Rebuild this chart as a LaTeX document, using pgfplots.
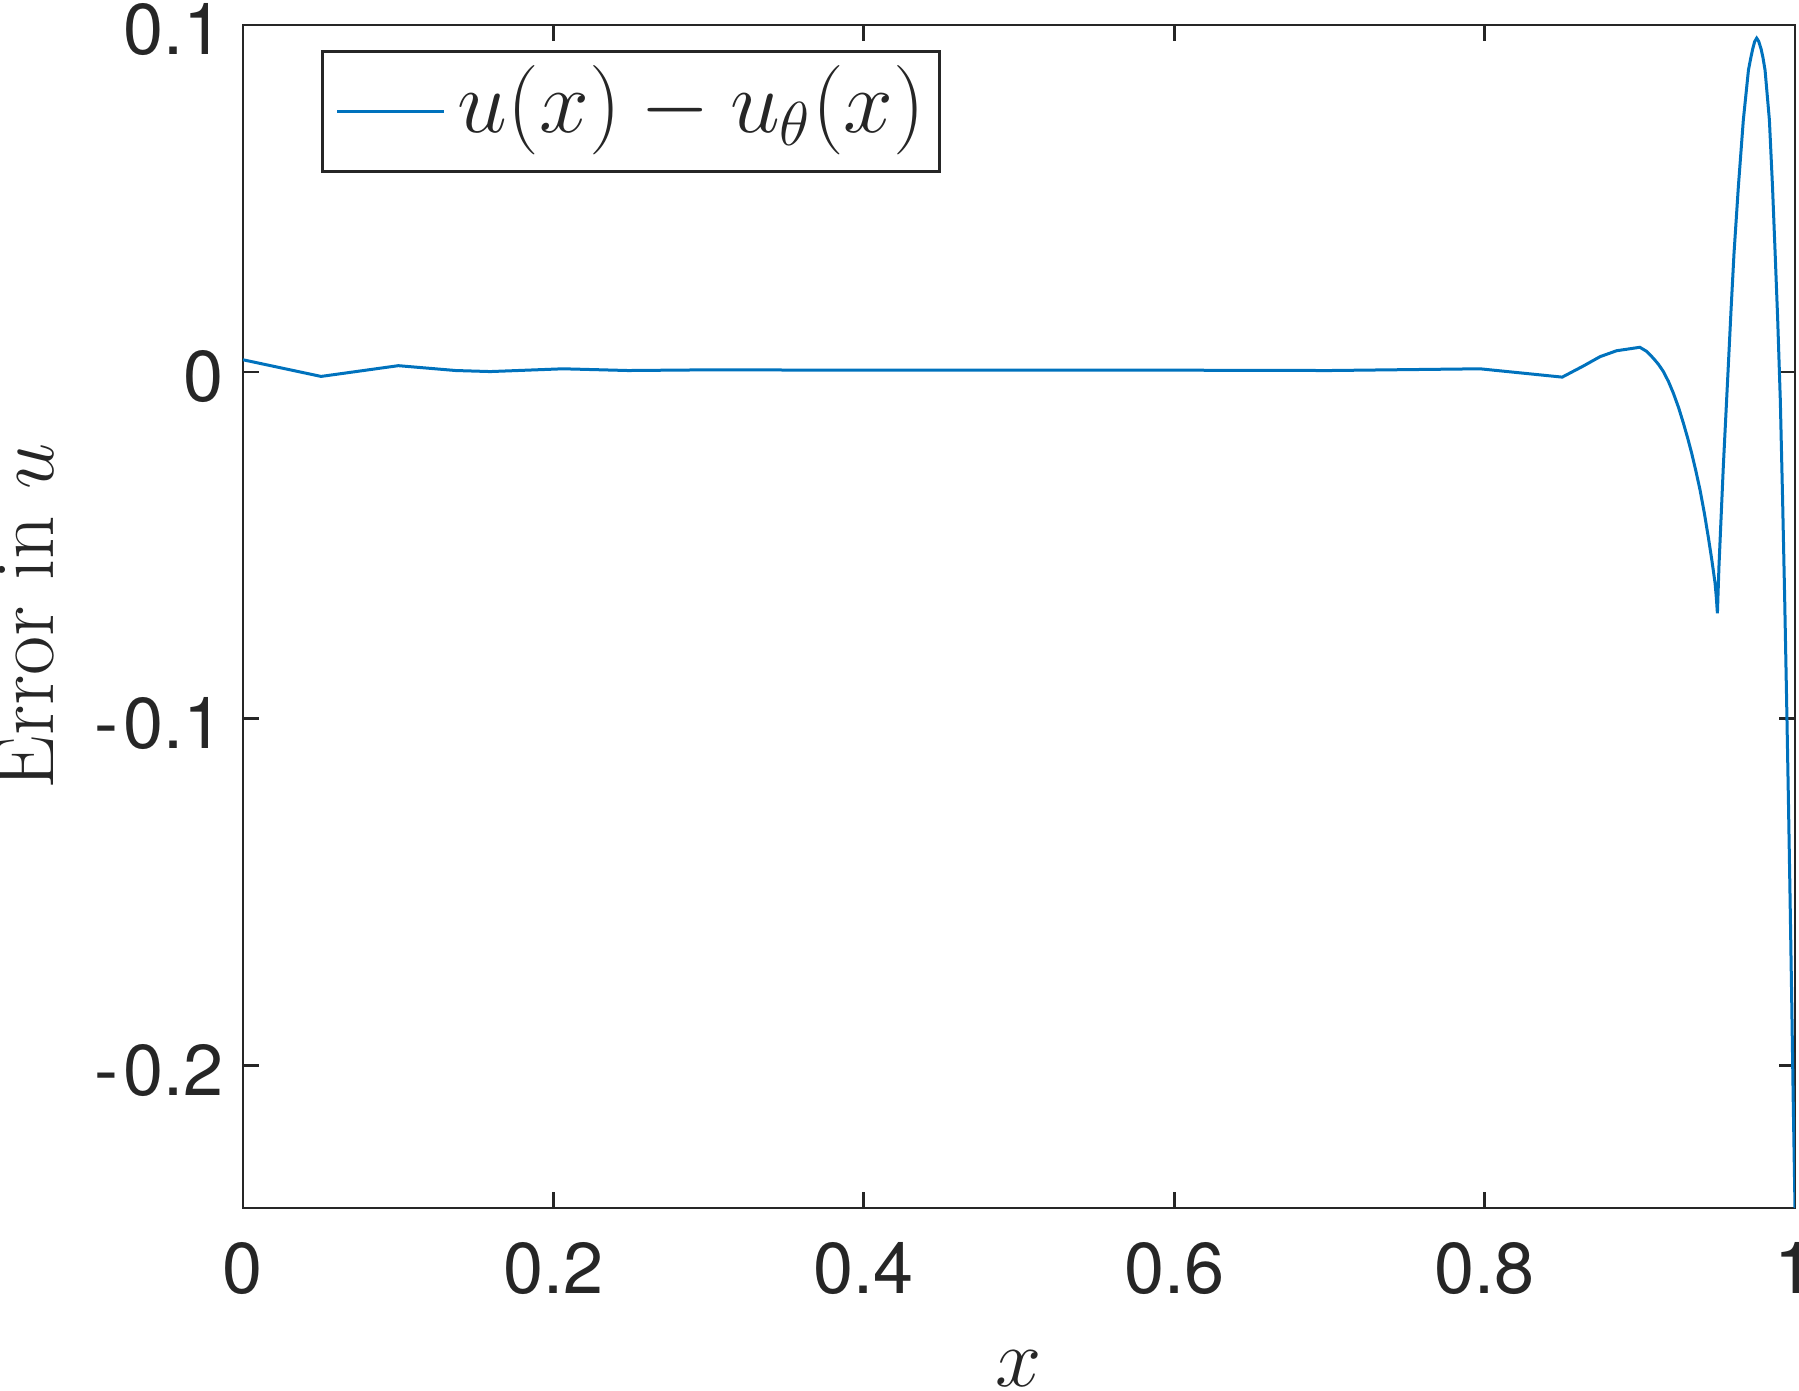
\documentclass[border=0pt]{standalone}
\usepackage{fontspec}
\usepackage{pgfplots}
\pgfplotsset{compat=1.18}
\newfontfamily\heros{TeX Gyre Heros}
\definecolor{mblue}{RGB}{0,114,189}
\definecolor{mgray}{rgb}{0.15,0.15,0.15}

\begin{document}
\begin{tikzpicture}
\begin{axis}[
  scale only axis, width=388pt, height=295.75pt,
  xmin=0, xmax=1, ymin=-0.241, ymax=0.1,
  xtick={0,0.2,0.4,0.6,0.8,1},
  xticklabels={0,0.2,0.4,0.6,0.8,1},
  ytick={-0.2,-0.1,0,0.1},
  yticklabels={-\kern1.2pt0.2,-\kern1.2pt0.1,0,0.1},
  axis line style={mgray, line width=0.7pt},
  every tick/.style={mgray, line width=0.7pt},
  major tick length=4pt,
  tick align=inside,
  tick label style={font=\heros\fontsize{18}{21}\selectfont, text=mgray},
  xticklabel style={yshift=-5.2pt},
  yticklabel style={yshift=-1.2pt, xshift=-1.4pt},
  xlabel={$x$},
  ylabel={Error in $u$},
  label style={font=\fontsize{21.3}{25}\selectfont, text=mgray},
  xlabel style={at={(axis description cs:0.5,-0.1505)}, anchor=base},
  ylabel style={at={(axis description cs:-0.1224,0.5)}, anchor=base},
  legend style={at={(0.0503,0.9789)}, anchor=north west, draw=mgray,
    line width=0.7pt, inner sep=0pt, font=\fontsize{20.74}{25}\selectfont,
    text=mgray, nodes={inner sep=0pt, text height=22.3pt, text depth=7.7pt}},
  legend image code/.code={\draw[#1] (3.75pt,0pt) -- (30.45pt,0pt);
    \path[draw=none] (0pt,0pt) -- (33.85pt,0pt);},
]
\coordinate (SW) at (rel axis cs:0,0);
\coordinate (NE) at (rel axis cs:1,1);
\addplot[mblue, line width=0.75pt] coordinates {
  (0.000,0.0035) (0.0503,-0.0013) (0.1001,0.0018) (0.1371,0.0004)
  (0.1593,0.0001) (0.2062,0.0009) (0.2481,0.0004) (0.3,0.0006)
  (0.4,0.0005) (0.5,0.0005) (0.6,0.0005) (0.7,0.0004) (0.797,0.0009)
  (0.850,-0.0015) (0.8636,0.0017) (0.8744,0.0044) (0.885,0.0061)
  (0.900,0.0071) (0.9045,0.0059) (0.9088,0.0039) (0.9120,0.0022)
  (0.9152,0.0001) (0.9185,-0.0028) (0.9216,-0.0061) (0.9250,-0.0103)
  (0.9281,-0.0148) (0.9308,-0.0190) (0.9334,-0.0234) (0.9361,-0.0285)
  (0.9388,-0.0340) (0.9415,-0.0405) (0.9441,-0.0475) (0.9465,-0.0545)
  (0.9485,-0.0609) (0.9493,-0.0650) (0.9500,-0.0696) (0.9510,-0.0561)
  (0.9538,-0.0273) (0.9570,0.0015) (0.9588,0.0180) (0.9607,0.0342)
  (0.9635,0.0534) (0.9667,0.0726) (0.9700,0.0870) (0.9715,0.0905)
  (0.9728,0.0932) (0.9740,0.0952) (0.9753,0.0962) (0.9766,0.0953)
  (0.9782,0.0930) (0.9794,0.0905) (0.9807,0.0870) (0.9835,0.0726)
  (0.9855,0.0534) (0.9872,0.0342) (0.98885,0.0150) (0.99053,-0.0081)
  (0.99201,-0.0369) (0.99336,-0.0657) (0.99459,-0.0945) (0.99575,-0.1233)
  (0.99684,-0.1522) (0.99787,-0.1810) (0.99884,-0.2098) (1.0,-0.2410)
};
\addlegendentry{\raisebox{2pt}{\scalebox{1.078}{$u(x) - u_\theta(x)$}}\hspace*{3.6pt}}
\end{axis}
\pgfresetboundingbox
\path[use as bounding box] ([xshift=-60.75pt,yshift=-45.75pt]SW)
  rectangle ([xshift=1pt,yshift=6.25pt]NE);
\end{tikzpicture}
\end{document}
